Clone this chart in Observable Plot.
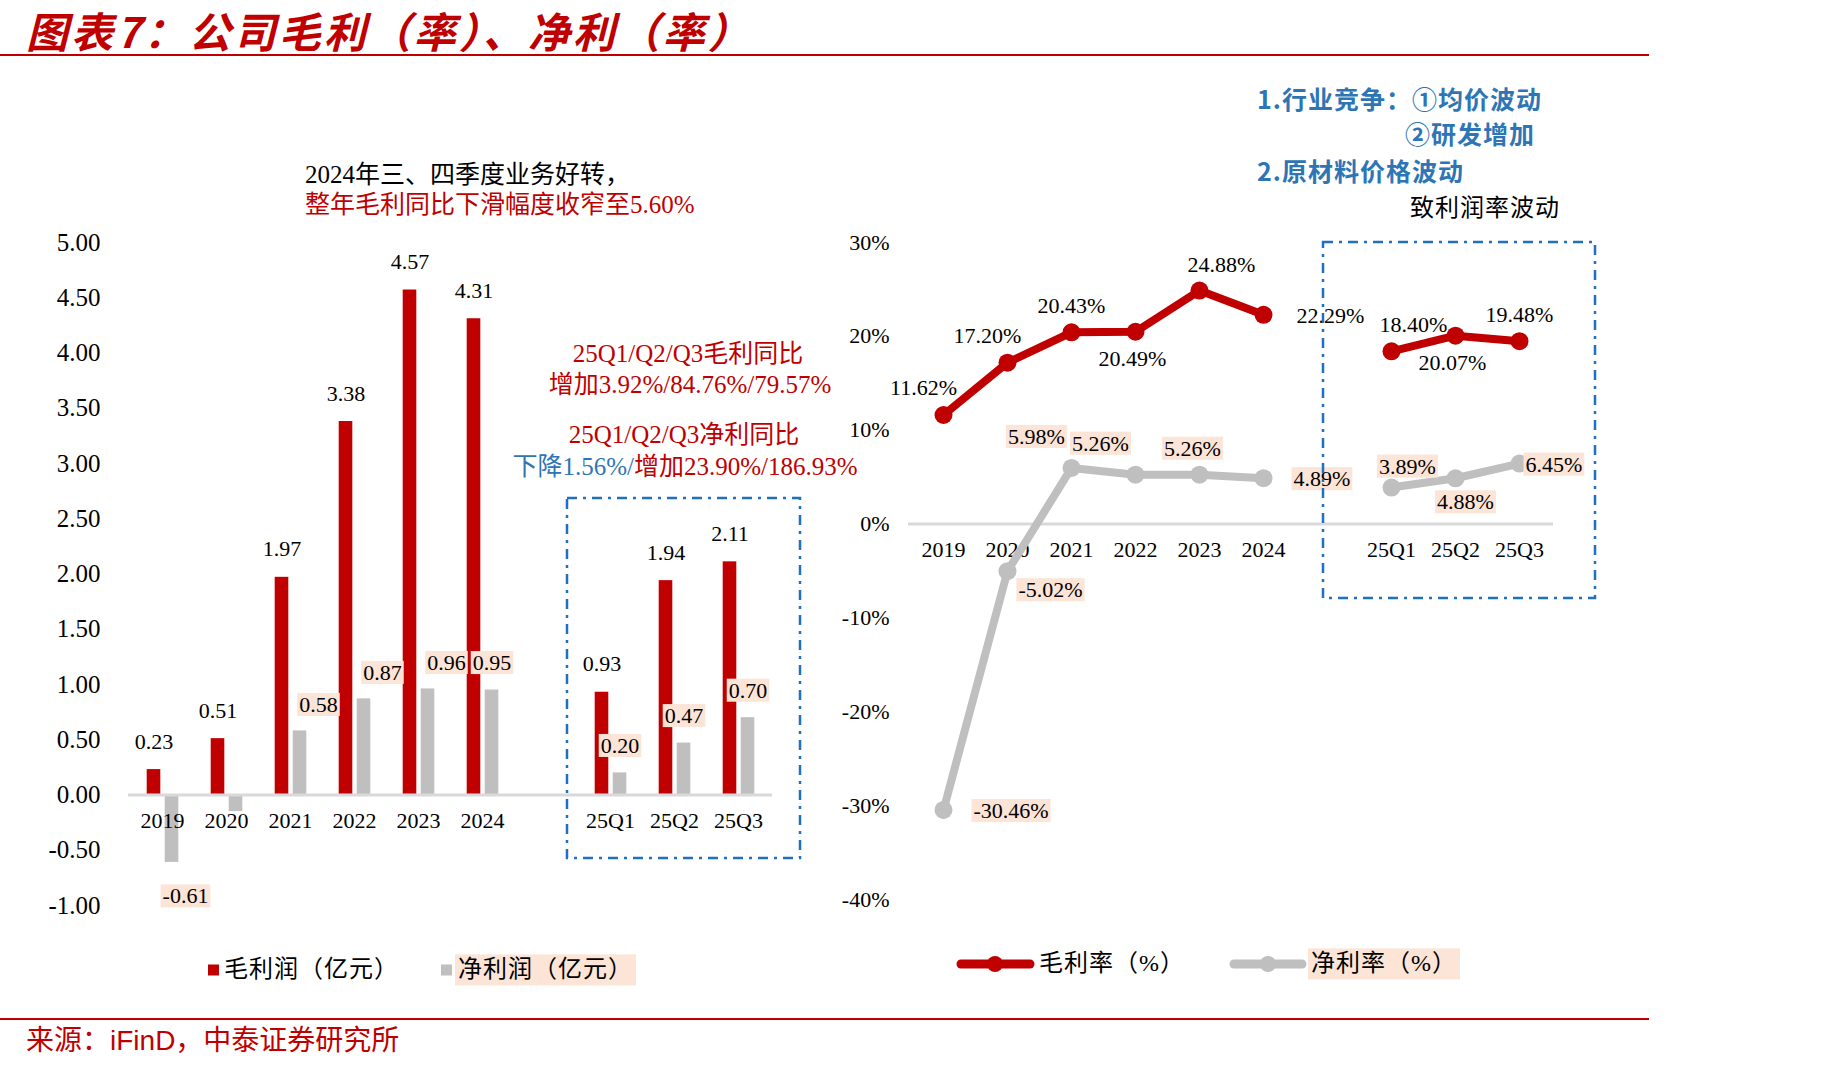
<!DOCTYPE html>
<html>
<head>
<meta charset="utf-8">
<script src="https://cdn.jsdelivr.net/npm/d3@7"></script>
<script src="https://cdn.jsdelivr.net/npm/@observablehq/plot@0.6"></script>
<style>
  body { margin: 0; background: #fff; }
  #page { position: relative; width: 1830px; height: 1072px; overflow: hidden; background: #fff;
          font-family: "Liberation Serif", "Noto Sans CJK SC", serif; color: #000; }
  .abs { position: absolute; white-space: nowrap; line-height: 1.3; }
  .cx { transform: translate(-50%, -50%); }
  .cy { transform: translateY(-50%); }
  #left, #right { position: absolute; top: 200px; }
  #left { left: 0; }
  #right { left: 830px; }
  #left svg, #right svg { overflow: visible; }
  #left g[aria-label^="y-axis"] text { font-size: 25px; }
  #right g[aria-label^="y-axis"] text { font-size: 22px; }
  .peach { background: #fce4d6; padding: 0 3px; }
  .blue { color: #2e75b6; }
  .red { color: #c00000; }
</style>
</head>
<body>
<div id="page">
  <div class="abs cy" style="left:26px;top:30px;font-family:'Noto Sans CJK SC';font-weight:700;font-style:italic;font-size:42px;letter-spacing:3px;color:#c00000;">图表7：公司毛利（率）、净利（率）</div>

  <div class="abs cy" style="left:305px;top:175px;font-size:25px;">2024年三、四季度业务好转，</div>
  <div class="abs cy red" style="left:305px;top:205px;font-size:25px;">整年毛利同比下滑幅度收窄至5.60%</div>

  <div class="abs cx red" style="left:688px;top:354px;font-size:25px;">25Q1/Q2/Q3毛利同比</div>
  <div class="abs cx red" style="left:690px;top:385px;font-size:25px;">增加3.92%/84.76%/79.57%</div>
  <div class="abs cx red" style="left:684px;top:435px;font-size:25px;">25Q1/Q2/Q3净利同比</div>
  <div class="abs cx" style="left:685px;top:467px;font-size:25px;"><span class="blue">下降1.56%/</span><span class="red">增加23.90%/186.93%</span></div>

  <div class="abs cy blue" style="left:1257px;top:98px;font-size:25px;font-weight:700;font-family:'Noto Sans CJK SC';letter-spacing:1px;">1.行业竞争：①均价波动</div>
  <div class="abs cy blue" style="right:295px;top:133px;font-size:25px;font-weight:700;font-family:'Noto Sans CJK SC';letter-spacing:1px;">②研发增加</div>
  <div class="abs cy blue" style="left:1257px;top:170px;font-size:25px;font-weight:700;font-family:'Noto Sans CJK SC';letter-spacing:1px;">2.原材料价格波动</div>
  <div class="abs cx" style="left:1485px;top:209px;font-size:24px;letter-spacing:1px;">致利润率波动</div>

  <div id="left"></div>
  <div id="right"></div>

  <svg id="deco" width="1830" height="1072" style="position:absolute;left:0;top:0;pointer-events:none;">
    <line x1="0" x2="1649" y1="55" y2="55" stroke="#c00000" stroke-width="2"/>
    <line x1="0" x2="1649" y1="1019" y2="1019" stroke="#c00000" stroke-width="2"/>
    <rect x="567" y="498" width="233" height="360" fill="none" stroke="#1f70c1" stroke-width="2.5" stroke-dasharray="10 6 3 6"/>
    <rect x="1323" y="242" width="272" height="356" fill="none" stroke="#1f70c1" stroke-width="2.5" stroke-dasharray="10 6 3 6"/>
    <rect x="208" y="964.5" width="11" height="11" fill="#c00000"/>
    <rect x="441" y="964.5" width="11" height="11" fill="#bfbfbf"/>
    <line x1="961" x2="1030" y1="964" y2="964" stroke="#c00000" stroke-width="9" stroke-linecap="round"/>
    <circle cx="995" cy="964" r="8" fill="#c00000"/>
    <line x1="1234" x2="1302" y1="964" y2="964" stroke="#bfbfbf" stroke-width="9" stroke-linecap="round"/>
    <circle cx="1268" cy="964" r="8" fill="#bfbfbf"/>
  </svg>

  <div class="abs cy" style="left:224px;top:970px;font-size:24px;letter-spacing:1px;">毛利润（亿元）</div>
  <div class="abs cy peach" style="left:455px;top:970px;font-size:24px;letter-spacing:1px;">净利润（亿元）</div>
  <div class="abs cy" style="left:1039px;top:964px;font-size:24px;letter-spacing:1px;">毛利率（%）</div>
  <div class="abs cy peach" style="left:1308px;top:964px;font-size:24px;letter-spacing:1px;">净利率（%）</div>

  <div class="abs cy red" style="left:26px;top:1040px;font-size:28px;"><span style="font-family:'Noto Sans CJK SC'">来源：</span><span style="font-family:'Liberation Sans'">iFinD</span><span style="font-family:'Noto Sans CJK SC'">，中泰证券研究所</span></div>
</div>

<script>
// ---------------- data ----------------
const categories = ["2019", "2020", "2021", "2022", "2023", "2024", "25Q1", "25Q2", "25Q3"];
const slots = ["2019", "2020", "2021", "2022", "2023", "2024", "", "25Q1", "25Q2", "25Q3"];
const periodGroup = ["年度", "年度", "年度", "年度", "年度", "年度", "季度", "季度", "季度"];
const grossProfit = [0.23, 0.51, 1.97, 3.38, 4.57, 4.31, 0.93, 1.94, 2.11];   // 毛利润（亿元）
const netProfit = [-0.61, -0.15, 0.58, 0.87, 0.96, 0.95, 0.20, 0.47, 0.70];   // 净利润（亿元）
const grossMargin = [11.62, 17.20, 20.43, 20.49, 24.88, 22.29, 18.40, 20.07, 19.48]; // 毛利率（%）
const netMargin = [-30.46, -5.02, 5.98, 5.26, 5.26, 4.89, 3.89, 4.88, 6.45];         // 净利率（%）
const leftTicks = [-1, -0.5, 0, 0.5, 1, 1.5, 2, 2.5, 3, 3.5, 4, 4.5, 5];
const rightTicks = [-40, -30, -20, -10, 0, 10, 20, 30];

// label placement keywords (which side of the mark a value label sits on)
const netProfitLabelPos = ["dr", "none", "ur", "ur", "ur", "u", "u", "u", "u"];
const grossMarginLabelPos = ["ul", "ul", "u", "d", "ur", "r", "ur", "d", "u"];
const netMarginLabelPos = ["r", "dr", "ul", "ul", "u", "r", "ur", "d", "rn"];

// ---------------- styles ----------------
const RED = "#c00000", GRAY = "#bfbfbf", ZERO = "#d9d9d9";
const netProfitPlace = {
  u: {dx: 9.5, dy: -27}, ur: {dx: 28, dy: -26}, dr: {dx: 23, dy: 34}
};
const grossPlace = {
  u: {dx: 0, dy: -26}, d: {dx: -3, dy: 27}, ul: {dx: -20, dy: -27},
  ur: {dx: 22, dy: -26}, r: {dx: 33, dy: 1, textAnchor: "start"}
};
const netPlace = {
  u: {dx: -7, dy: -26}, d: {dx: 10, dy: 24}, ul: {dx: -35, dy: -31}, ur: {dx: 16, dy: -21},
  r: {dx: 30, dy: 1, textAnchor: "start"}, rn: {dx: 6, dy: 1, textAnchor: "start"}, dr: {dx: 43, dy: 19}
};

const rows = categories.map((c, i) => ({
  cat: c, period: periodGroup[i],
  gp: grossProfit[i], np: netProfit[i], gm: grossMargin[i], nm: netMargin[i],
  npPos: netProfitLabelPos[i], gmPos: grossMarginLabelPos[i], nmPos: netMarginLabelPos[i]
}));

function placedLabels(data, posKey, places, channels, extra) {
  return Object.entries(places).map(([k, p]) =>
    Plot.text(data.filter(d => d[posKey] === k), {
      ...channels, dx: p.dx, dy: p.dy, textAnchor: p.textAnchor || "middle", ...extra
    }));
}

const font = "Liberation Serif, Noto Sans CJK SC, serif";
const peachOpts = {fontSize: 22, ariaDescription: "peach-label", className: "peach-label"};

// ---------------- left chart: profits ----------------
const left = Plot.plot({
  width: 830, height: 760,
  marginLeft: 128, marginRight: 58, marginTop: 42, marginBottom: 55,
  x: {type: "band", domain: slots, padding: 0, axis: null},
  y: {domain: [-1, 5], ticks: leftTicks, tickFormat: d => d.toFixed(2), tickSize: 0, tickPadding: 28, label: null},
  style: {fontFamily: font, fontSize: "22px", color: "#000", background: "transparent"},
  marks: [
    Plot.barY(rows, {x: "cat", y: "gp", fill: RED, insetLeft: 16.7, insetRight: 33.7}),
    Plot.barY(rows, {x: "cat", y: "np", fill: GRAY, insetLeft: 34.7, insetRight: 15.7}),
    Plot.ruleY([0], {stroke: ZERO, strokeWidth: 3}),
    Plot.text(rows, {x: "cat", y: 0, text: "cat", dy: 26, fontSize: 22}),
    Plot.text(rows, {x: "cat", y: "gp", text: d => d.gp.toFixed(2), dx: -8.5, dy: -28, fontSize: 22}),
    ...placedLabels(rows, "npPos", netProfitPlace,
      {x: "cat", y: "np", text: d => d.np.toFixed(2)}, peachOpts)
  ]
});
document.getElementById("left").append(left);

// ---------------- right chart: margins ----------------
const right = Plot.plot({
  width: 1000, height: 760,
  marginLeft: 78, marginRight: 277, marginTop: 42, marginBottom: 61,
  x: {type: "band", domain: slots, padding: 0, axis: null},
  y: {domain: [-40, 30], ticks: rightTicks, tickFormat: d => d + "%", tickSize: 0, tickPadding: 19, label: null},
  style: {fontFamily: font, fontSize: "22px", color: "#000", background: "transparent"},
  marks: [
    Plot.ruleY([0], {stroke: ZERO, strokeWidth: 3}),
    Plot.text(rows, {x: "cat", y: 0, text: "cat", dy: 26, fontSize: 22}),
    Plot.line(rows, {x: "cat", y: "nm", z: "period", stroke: GRAY, strokeWidth: 8, strokeLinejoin: "round", strokeLinecap: "round"}),
    Plot.dot(rows, {x: "cat", y: "nm", r: 9, fill: GRAY}),
    Plot.line(rows, {x: "cat", y: "gm", z: "period", stroke: RED, strokeWidth: 8, strokeLinejoin: "round", strokeLinecap: "round"}),
    Plot.dot(rows, {x: "cat", y: "gm", r: 9, fill: RED}),
    ...placedLabels(rows, "gmPos", grossPlace,
      {x: "cat", y: "gm", text: d => d.gm.toFixed(2) + "%"}, {fontSize: 22}),
    ...placedLabels(rows, "nmPos", netPlace,
      {x: "cat", y: "nm", text: d => d.nm.toFixed(2) + "%"}, peachOpts)
  ]
});
document.getElementById("right").append(right);

// peach background boxes behind the net-value labels (sized from the rendered text)
function addPeach(svg) {
  const sel = 'g[aria-description="peach-label"] text, g.peach-label text, text.peach-label';
  const texts = Array.from(new Set(svg.querySelectorAll(sel)));
  texts.forEach(t => {
    const b = t.getBBox();
    const r = document.createElementNS("http://www.w3.org/2000/svg", "rect");
    r.setAttribute("x", b.x - 2);
    r.setAttribute("y", b.y + 1);
    r.setAttribute("width", b.width + 4);
    r.setAttribute("height", b.height - 2);
    r.setAttribute("fill", "#fce4d6");
    const tr = t.getAttribute("transform");
    if (tr) r.setAttribute("transform", tr);
    t.parentNode.insertBefore(r, t);
  });
}
addPeach(left);
addPeach(right);
</script>
</body>
</html>
